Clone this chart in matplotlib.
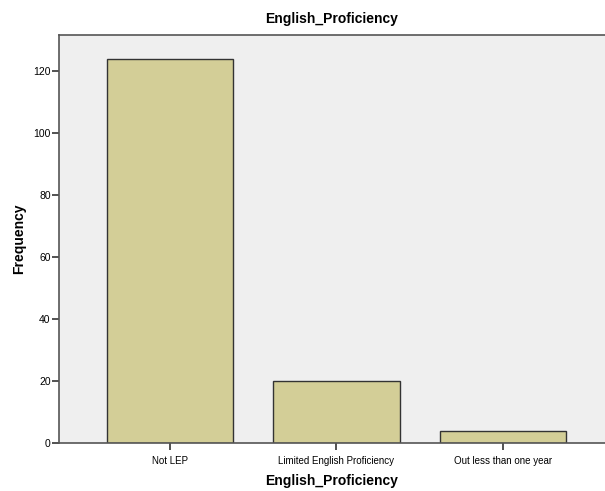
import matplotlib
matplotlib.use("Agg")
import matplotlib.pyplot as plt

categories = ["Not LEP", "Limited English Proficiency", "Out less than one year"]
frequencies = [124, 20, 4]
y_ticks = [0, 20, 40, 60, 80, 100, 120]

plt.rcParams['font.family'] = ['Liberation Sans', 'DejaVu Sans']

fig = plt.figure(figsize=(6.05, 4.91), dpi=100)
ax = fig.add_axes([59 / 605, 48 / 491, 1 - 59 / 605, (443 - 35) / 491])
ax.set_facecolor("#efefef")

x = list(range(len(categories)))
ax.bar(x, frequencies, width=0.757, color="#d3ce97", edgecolor="#333333",
       linewidth=1.0, zorder=2)

ax.set_xlim(-0.667, 2.613)
ax.set_ylim(0, 131.6)
ax.set_xticks(x)
ax.set_xticklabels(categories, fontsize=7)
ax.set_yticks(y_ticks)
ax.tick_params(axis='y', labelsize=7.5, length=5, width=1.2, color="#333333", pad=1)
ax.tick_params(axis='x', length=5, width=1.2, color="#333333", pad=4)

for side in ["left", "top", "bottom"]:
    ax.spines[side].set_color("#555555")
    ax.spines[side].set_linewidth(1.2)
ax.spines["right"].set_visible(False)

ax.set_xlabel("English_Proficiency", fontsize=10, fontweight="bold", labelpad=6)
ax.set_ylabel("Frequency", fontsize=10, fontweight="bold", labelpad=5)
ax.set_title("English_Proficiency", fontsize=10, fontweight="bold", pad=9)

fig.savefig("out.png", dpi=100)
